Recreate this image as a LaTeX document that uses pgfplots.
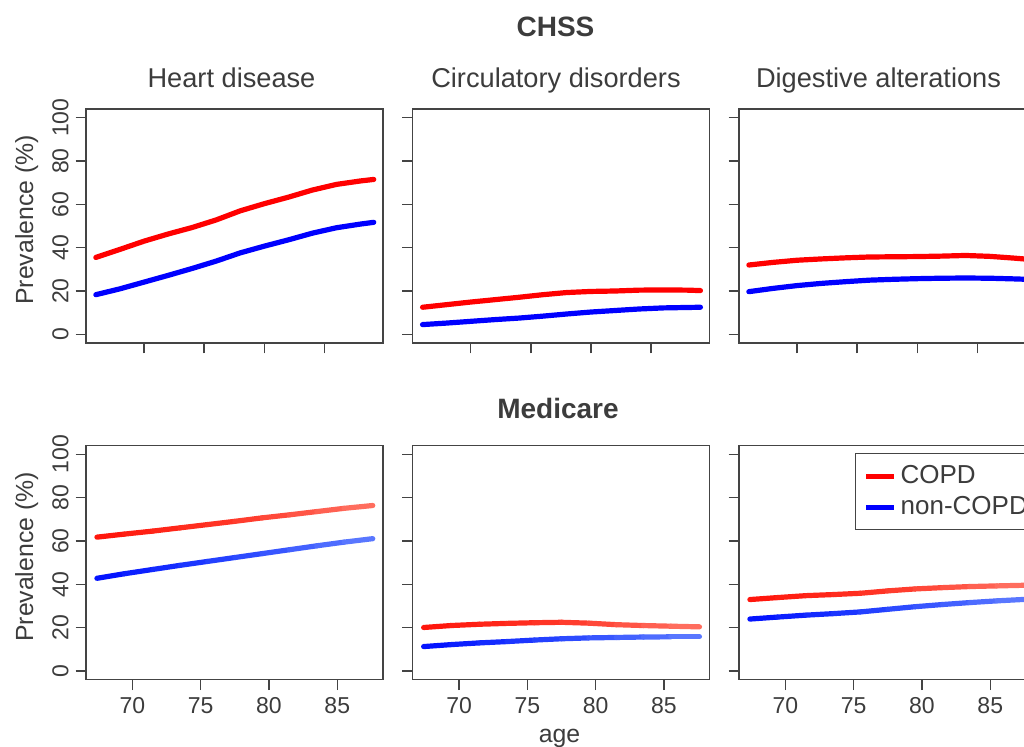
\documentclass[border=0pt]{standalone}
\usepackage{pgfplots}
\usepackage{pgfplotstable}
\pgfplotsset{compat=1.18}
\usepackage{fontspec}
\setmainfont{Liberation Sans}
\definecolor{txt}{HTML}{3C3C3C}
\definecolor{axc}{HTML}{444444}

\pgfplotstableread[row sep=\\]{
age copd non \\
66 35.5 18.3 \\ 68 39.2 21.0 \\ 70 43.0 24.1 \\ 72 46.3 27.2 \\ 74 49.3 30.4 \\
76 52.8 33.8 \\ 78 57.0 37.6 \\ 80 60.3 40.7 \\ 82 63.3 43.6 \\ 84 66.6 46.7 \\
86 69.2 49.2 \\ 88 70.8 50.9 \\ 89.1 71.5 51.7 \\
}\chssheart
\pgfplotstableread[row sep=\\]{
age copd non \\
66 12.5 4.5 \\ 68 13.7 5.2 \\ 70 14.9 6.0 \\ 72 16.0 6.8 \\ 74 17.1 7.5 \\
76 18.3 8.4 \\ 78 19.3 9.4 \\ 80 19.8 10.3 \\ 82 20.0 11.0 \\ 84 20.4 11.7 \\
86 20.5 12.2 \\ 88 20.4 12.4 \\ 89.1 20.2 12.5 \\
}\chsscirc
\pgfplotstableread[row sep=\\]{
age copd non \\
66 32.0 19.7 \\ 68 33.2 21.2 \\ 70 34.2 22.5 \\ 72 34.8 23.5 \\ 74 35.3 24.3 \\
76 35.7 25.0 \\ 78 35.8 25.4 \\ 80 35.9 25.7 \\ 82 36.1 25.9 \\ 84 36.4 26.0 \\
86 36.0 25.9 \\ 88 35.2 25.6 \\ 89.1 34.7 25.4 \\
}\chssdig
\pgfplotstableread[row sep=\\]{
age copd non \\
67.4 61.8 42.8 \\ 69.4 63.2 44.9 \\ 71.5 64.6 46.9 \\ 73.5 66.1 48.8 \\ 75.5 67.6 50.6 \\
77.5 69.1 52.4 \\ 79.5 70.7 54.2 \\ 81.5 72.1 56.0 \\ 83.5 73.6 57.8 \\ 85.5 75.1 59.5 \\
87.6 76.4 61.1 \\
}\medheart
\pgfplotstableread[row sep=\\]{
age copd non \\
67.4 20.1 11.3 \\ 69.4 21.0 12.2 \\ 71.5 21.6 13.0 \\ 73.5 22.0 13.6 \\ 75.5 22.3 14.3 \\
77.5 22.5 14.9 \\ 79.5 22.1 15.3 \\ 81.5 21.4 15.5 \\ 83.5 21.0 15.7 \\ 85.5 20.7 15.8 \\
87.6 20.4 15.8 \\
}\medcirc
\pgfplotstableread[row sep=\\]{
age copd non \\
67.4 33.0 24.0 \\ 69.4 33.9 24.9 \\ 71.5 34.8 25.8 \\ 73.5 35.3 26.5 \\ 75.5 35.9 27.3 \\
77.5 37.0 28.5 \\ 79.5 37.9 29.7 \\ 81.5 38.5 30.7 \\ 83.5 39.0 31.6 \\ 85.5 39.3 32.4 \\
87.6 39.6 33.1 \\
}\meddig

\pgfplotsset{
  colormap={fadered}{rgb255=(255,20,10) rgb255=(255,55,40) rgb255=(255,115,100)},
  colormap={fadeblue}{rgb255=(0,15,255) rgb255=(40,70,255) rgb255=(95,125,255)},
  panel/.style={scale only axis, width=148.5pt, height=117pt, anchor=north west,
    ymin=-4, ymax=104, ytick={0,20,...,100},
    xtick={70,75,80,85},
    xtick pos=bottom, ytick pos=left,
    tick align=outside, major tick length=5.2pt,
    axis line style={axc, line width=0.7pt},
    tick style={axc, line width=0.7pt},
    tick label style={font=\fontsize{11.5}{13}\selectfont, text=txt},
    yticklabel style={rotate=90, anchor=south},
    /pgf/number format/assume math mode=true,
  },
  top/.style={panel, xmin=65.18, xmax=89.87, xticklabels={}},
  bot/.style={panel, xmin=66.6, xmax=88.35},
  noy/.style={yticklabels={}},
  cur/.style={line width=2.6pt, line cap=round, line join=round},
}

\begin{document}
\begin{tikzpicture}
\path[use as bounding box, clip] (0pt,0pt) rectangle (512pt,-373pt);

% top row (CHSS)
\begin{axis}[top, at={(43pt,-54.5pt)}]
\addplot[red, cur] table[x=age, y=copd] {\chssheart};
\addplot[blue, cur] table[x=age, y=non] {\chssheart};
\end{axis}
\begin{axis}[top, noy, at={(206.35pt,-54.5pt)}]
\addplot[red, cur] table[x=age, y=copd] {\chsscirc};
\addplot[blue, cur] table[x=age, y=non] {\chsscirc};
\end{axis}
\begin{axis}[top, noy, at={(369.5pt,-54.5pt)}]
\addplot[red, cur] table[x=age, y=copd] {\chssdig};
\addplot[blue, cur] table[x=age, y=non] {\chssdig};
\end{axis}

% bottom row (Medicare)
\begin{axis}[bot, at={(43pt,-222.85pt)}]
\addplot[mesh, colormap name=fadered, point meta=x, cur] table[x=age, y=copd] {\medheart};
\addplot[mesh, colormap name=fadeblue, point meta=x, cur] table[x=age, y=non] {\medheart};
\end{axis}
\begin{axis}[bot, noy, at={(206.35pt,-222.85pt)}]
\addplot[mesh, colormap name=fadered, point meta=x, cur] table[x=age, y=copd] {\medcirc};
\addplot[mesh, colormap name=fadeblue, point meta=x, cur] table[x=age, y=non] {\medcirc};
\end{axis}
\begin{axis}[bot, noy, at={(369.5pt,-222.85pt)},
  legend style={at={(0.39,0.969)}, anchor=north west, draw=axc, line width=0.6pt,
    font=\fontsize{13}{15}\selectfont, text=txt, inner xsep=4pt, inner ysep=4pt,
    row sep=1pt, cells={anchor=west}},
  legend image code/.code={\draw[#1] (0pt,0pt) -- (14pt,0pt);}]
\addlegendimage{red, line width=2.6pt}
\addlegendimage{blue, line width=2.6pt}
\addplot[mesh, colormap name=fadered, point meta=x, cur, forget plot] table[x=age, y=copd] {\meddig};
\addplot[mesh, colormap name=fadeblue, point meta=x, cur, forget plot] table[x=age, y=non] {\meddig};
\legend{COPD, non-COPD}
\end{axis}

% titles and labels
\begin{scope}[every node/.style={text=txt}]
\node[anchor=base, font=\bfseries\fontsize{14}{16}\selectfont] at (277.75pt,-18pt) {CHSS};
\node[anchor=base, font=\bfseries\fontsize{14}{16}\selectfont] at (279pt,-209pt) {Medicare};
\node[anchor=base, font=\fontsize{13.6}{16}\selectfont] at (115.75pt,-43.5pt) {Heart disease};
\node[anchor=base, font=\fontsize{13.6}{16}\selectfont] at (278pt,-43.5pt) {Circulatory disorders};
\node[anchor=base, font=\fontsize{13.6}{16}\selectfont] at (439.25pt,-43.5pt) {Digestive alterations};
\node[anchor=base, rotate=90, font=\fontsize{12.4}{15}\selectfont] at (16.5pt,-110pt) {Prevalence (\%)};
\node[anchor=base, rotate=90, font=\fontsize{12.4}{15}\selectfont] at (16.5pt,-278.5pt) {Prevalence (\%)};
\node[anchor=base, font=\fontsize{12.4}{15}\selectfont] at (279.75pt,-371pt) {age};
\end{scope}
\end{tikzpicture}
\end{document}
